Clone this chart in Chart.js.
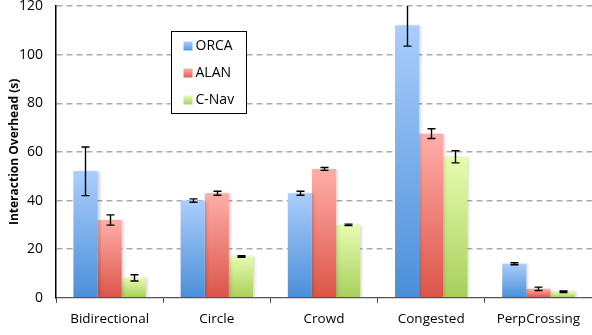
<!DOCTYPE html>
<html>
<head>
<meta charset="utf-8">
<script src="https://cdn.jsdelivr.net/npm/chart.js@4.4.1/dist/chart.umd.min.js"></script>
<style>
  html, body { margin: 0; padding: 0; background: #fff; }
  #wrap { width: 592px; height: 335px; position: relative; }
</style>
</head>
<body>
<div id="wrap"><canvas id="c"></canvas></div>
<script>
// Scenario categories
const scenarios = ['Bidirectional', 'Circle', 'Crowd', 'Congested', 'PerpCrossing'];

// Mean interaction overhead (s) per method
const orcaValues = [52, 40, 43, 112, 14];
const alanValues = [32, 43, 53, 67.5, 3.7];
const cnavValues = [8.2, 17, 30, 58, 2.5];

// Half-width of the error bars (s)
const orcaErrors = [10, 0.7, 0.8, 8.5, 0.4];
const alanErrors = [2.1, 0.8, 0.6, 2, 0.7];
const cnavErrors = [1.3, 0.3, 0.3, 2.5, 0.3];

// Y axis ticks
const yTicks = [0, 20, 40, 60, 80, 100, 120];

const seriesLabels = ['ORCA', 'ALAN', 'C-Nav'];
const FONT = "'Open Sans', 'DejaVu Sans', sans-serif";

// Vertical gradient per bar: light at the top, saturated at the base
function barGradient(top, bottom) {
  return function (ctx) {
    const chart = ctx.chart;
    const y = chart.scales && chart.scales.y;
    if (!y || ctx.parsed === undefined) return bottom;
    const v = ctx.parsed.y;
    const yTop = y.getPixelForValue(v);
    const yBase = y.getPixelForValue(0);
    if (!isFinite(yTop) || !isFinite(yBase) || yTop === yBase) return bottom;
    const g = chart.ctx.createLinearGradient(0, yTop, 0, yBase);
    g.addColorStop(0, top);
    g.addColorStop(1, bottom);
    return g;
  };
}

const legendSwatch = [
  ['#a9cbfb', '#5a9be0'],
  ['#ffaca7', '#e06157'],
  ['#e6fbad', '#acd267']
];

// Error bars drawn from the dataset's error array through the scales
const errorBarPlugin = {
  id: 'errorBars',
  afterDatasetsDraw(chart) {
    const ctx = chart.ctx;
    const y = chart.scales.y;
    const area = chart.chartArea;
    ctx.save();
    ctx.beginPath();
    ctx.rect(area.left, area.top, area.right - area.left, area.bottom - area.top + 2);
    ctx.clip();
    ctx.strokeStyle = '#000';
    ctx.lineWidth = 1.4;
    chart.data.datasets.forEach((ds, di) => {
      const meta = chart.getDatasetMeta(di);
      meta.data.forEach((bar, i) => {
        const v = ds.data[i];
        const e = ds.errors[i];
        const x = Math.round(bar.x) + 0.5;
        const yHi = y.getPixelForValue(v + e);
        const yLo = y.getPixelForValue(v - e);
        ctx.beginPath();
        ctx.moveTo(x, yHi);
        ctx.lineTo(x, yLo);
        ctx.moveTo(x - 4, yHi);
        ctx.lineTo(x + 4, yHi);
        ctx.moveTo(x - 4, yLo);
        ctx.lineTo(x + 4, yLo);
        ctx.stroke();
      });
    });
    ctx.restore();
  }
};

// Soft drop shadow behind bars
const shadowPlugin = {
  id: 'barShadow',
  beforeDatasetsDraw(chart) {
    const ctx = chart.ctx;
    ctx.save();
    ctx.shadowColor = 'rgba(0,0,0,0.18)';
    ctx.shadowBlur = 3;
    ctx.shadowOffsetX = 2;
    ctx.shadowOffsetY = 0;
  },
  afterDatasetsDraw(chart) {
    chart.ctx.restore();
  }
};

// Boxed legend inside the plot area
const boxLegendPlugin = {
  id: 'boxLegend',
  afterDraw(chart) {
    const ctx = chart.ctx;
    const bx = 171.5, by = 31.5, bw = 75, bh = 82;
    ctx.save();
    ctx.fillStyle = '#fff';
    ctx.fillRect(bx, by, bw, bh);
    ctx.strokeStyle = '#000';
    ctx.lineWidth = 1;
    ctx.strokeRect(bx, by, bw, bh);
    ctx.font = '14px ' + FONT;
    ctx.textBaseline = 'middle';
    chart.data.datasets.forEach((ds, i) => {
      const cy = by + 14.5 + i * 27;
      const g = ctx.createLinearGradient(0, cy - 4, 0, cy + 4);
      g.addColorStop(0, legendSwatch[i][0]);
      g.addColorStop(1, legendSwatch[i][1]);
      ctx.fillStyle = g;
      ctx.fillRect(bx + 12, cy - 4.5, 9, 9);
      ctx.fillStyle = '#000';
      ctx.fillText(ds.label, bx + 24, cy + 0.5);
    });
    ctx.restore();
  }
};

new Chart(document.getElementById('c'), {
  type: 'bar',
  data: {
    labels: scenarios,
    datasets: [
      { label: seriesLabels[0], data: orcaValues, errors: orcaErrors,
        backgroundColor: barGradient('#abcdfc', '#4a8fd9') },
      { label: seriesLabels[1], data: alanValues, errors: alanErrors,
        backgroundColor: barGradient('#ffaea9', '#dc5448') },
      { label: seriesLabels[2], data: cnavValues, errors: cnavErrors,
        backgroundColor: barGradient('#e7fcb0', '#a8cf5c') }
    ]
  },
  options: {
    responsive: true,
    maintainAspectRatio: false,
    animation: false,
    layout: { padding: { top: 6, right: 0, left: 0, bottom: 0 } },
    datasets: { bar: { barPercentage: 1, categoryPercentage: 0.675, borderWidth: 0 } },
    plugins: {
      legend: { display: false },
      tooltip: { enabled: false }
    },
    scales: {
      x: {
        offset: true,
        grid: {
          display: true,
          offset: true,
          drawOnChartArea: false,
          drawTicks: true,
          tickLength: 5,
          color: '#444'
        },
        border: { display: true, color: '#555', width: 1.2 },
        ticks: { color: '#000', font: { family: FONT, size: 13.5 }, padding: 8 }
      },
      y: {
        min: 0,
        max: 120,
        afterBuildTicks(axis) { axis.ticks = yTicks.map(v => ({ value: v })); },
        afterFit(axis) {
          axis.width = 56;
          axis.paddingTop = 0;
          axis.paddingBottom = 0;
        },
        grid: {
          color: (c) => c.tick && c.tick.value === 0 ? 'rgba(0,0,0,0)' : '#ababab',
          lineWidth: 1.5,
          drawTicks: false
        },
        border: { display: true, color: '#000', width: 1.5, dash: [6, 4] },
        ticks: { color: '#000', font: { family: FONT, size: 14 }, padding: 13 },
        title: {
          display: true,
          text: 'Interaction Overhead (s)',
          color: '#000',
          font: { family: FONT, size: 12, weight: 'bold' },
          padding: { top: 7, bottom: 0 }
        }
      }
    }
  },
  plugins: [shadowPlugin, errorBarPlugin, boxLegendPlugin]
});
</script>
</body>
</html>
